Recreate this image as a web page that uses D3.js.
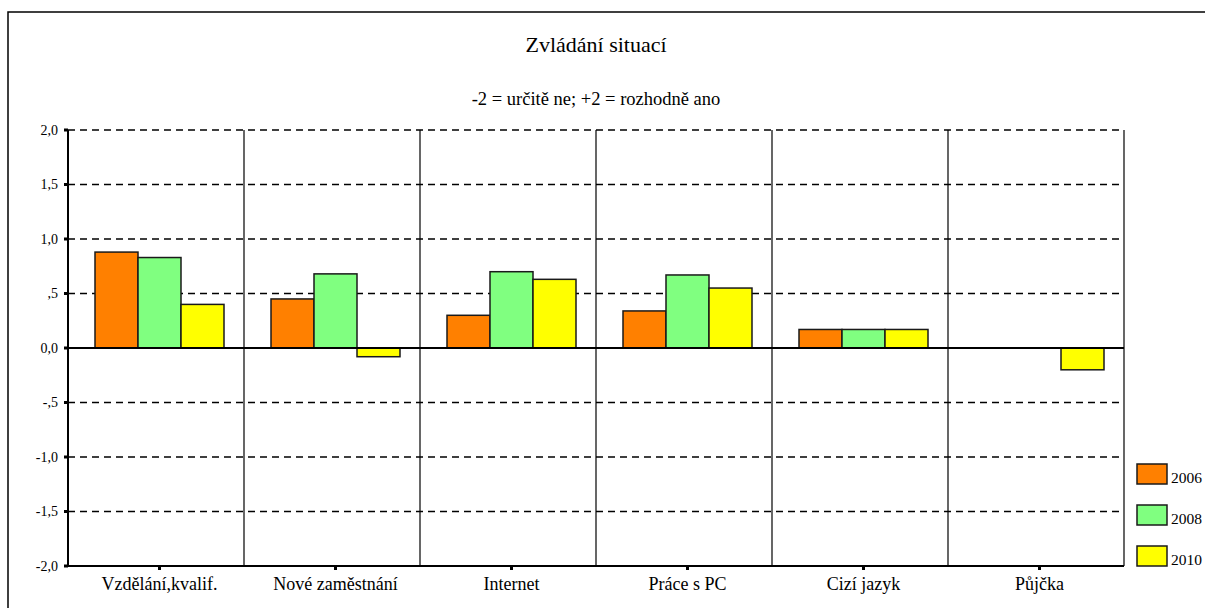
<!DOCTYPE html>
<html>
<head>
<meta charset="utf-8">
<script src="https://cdn.jsdelivr.net/npm/d3@7"></script>
<style>
  body { margin: 0; background: #fff; }
</style>
</head>
<body>
<div class="chart"></div>
<script>
var categories = ["Vzdělání,kvalif.", "Nové zaměstnání", "Internet", "Práce s PC", "Cizí jazyk", "Půjčka"];
var years = ["2006", "2008", "2010"];
var colors = ["#ff8000", "#80ff80", "#ffff00"];
var values2006 = [0.88, 0.45, 0.30, 0.34, 0.17, null];
var values2008 = [0.83, 0.68, 0.70, 0.67, 0.17, null];
var values2010 = [0.40, -0.08, 0.63, 0.55, 0.17, -0.20];
var yTicks = [2, 1.5, 1, 0.5, 0, -0.5, -1, -1.5, -2];
var yTickLabels = ["2,0", "1,5", "1,0", ",5", "0,0", "-,5", "-1,0", "-1,5", "-2,0"];

var drawChart = function(){

  var seriesValues = [values2006, values2008, values2010];
  var serif = "'Liberation Serif', 'DejaVu Serif', serif";

  var width = 1205,
      height = 608,
      plotLeft = 68, plotRight = 1124, plotTop = 130, plotBottom = 566;

  var svg = d3.select(".chart").append("svg")
      .attr("width", width)
      .attr("height", height)
      .attr("font-family", serif);

  // outer frame, runs off the page on the right and bottom
  svg.append("rect")
      .attr("x", 8).attr("y", 12)
      .attr("width", 1220).attr("height", 620)
      .style("fill", "none")
      .style("stroke", "#000")
      .style("stroke-width", 1.5);

  var x = d3.scaleBand().domain(categories).range([plotLeft, plotRight]);
  var xs = d3.scaleBand().domain(years).range([27, 156]);
  var y = d3.scaleLinear().domain([-2, 2]).range([plotBottom, plotTop]);

  // dashed grid
  svg.selectAll(".grid")
      .data(yTicks.filter(function(d){ return d !== 0 && d !== -2; }))
      .enter().append("line")
        .attr("x1", plotLeft).attr("x2", plotRight)
        .attr("y1", function(d){ return y(d); })
        .attr("y2", function(d){ return y(d); })
        .style("stroke", "#000")
        .style("stroke-width", 1.5)
        .style("stroke-dasharray", "7,5");

  // category separators
  svg.selectAll(".sep")
      .data(categories.slice(1).concat([null]))
      .enter().append("line")
        .attr("x1", function(d){ return d ? x(d) : plotRight; })
        .attr("x2", function(d){ return d ? x(d) : plotRight; })
        .attr("y1", plotTop).attr("y2", plotBottom)
        .style("stroke", "#000")
        .style("stroke-width", 1.2);

  // bars
  var bars = [];
  seriesValues.forEach(function(vals, s){
    vals.forEach(function(v, i){
      if (v !== null) bars.push({cat: categories[i], year: years[s], value: v, color: colors[s]});
    });
  });

  svg.selectAll(".bar")
      .data(bars)
      .enter().append("rect")
        .attr("x", function(d){ return x(d.cat) + xs(d.year); })
        .attr("width", xs.bandwidth())
        .attr("y", function(d){ return y(Math.max(0, d.value)); })
        .attr("height", function(d){ return Math.abs(y(d.value) - y(0)); })
        .style("fill", function(d){ return d.color; })
        .style("stroke", "#1a1a1a")
        .style("stroke-width", 1.5);

  // zero line and axes
  svg.append("line")
      .attr("x1", plotLeft).attr("x2", plotRight)
      .attr("y1", y(0)).attr("y2", y(0))
      .style("stroke", "#000").style("stroke-width", 2);
  svg.append("line")
      .attr("x1", plotLeft).attr("x2", plotLeft)
      .attr("y1", plotTop).attr("y2", plotBottom)
      .style("stroke", "#000").style("stroke-width", 2);
  svg.append("line")
      .attr("x1", plotLeft - 1).attr("x2", plotRight)
      .attr("y1", plotBottom).attr("y2", plotBottom)
      .style("stroke", "#000").style("stroke-width", 2);

  // y ticks
  svg.selectAll(".ytick")
      .data(yTicks)
      .enter().append("rect")
        .attr("x", plotLeft - 4).attr("width", 4)
        .attr("y", function(d){ return y(d) - 1.5; }).attr("height", 3)
        .style("fill", "#000");

  svg.selectAll(".ylabel")
      .data(yTicks)
      .enter().append("text")
        .attr("x", 58)
        .attr("y", function(d){ return y(d) + 4.5; })
        .attr("text-anchor", "end")
        .style("font-family", serif)
        .style("font-size", "14px")
        .text(function(d, i){ return yTickLabels[i]; });

  // x ticks and labels
  var cx = function(d){ return x(d) + x.bandwidth() / 2 + 3.5; };
  svg.selectAll(".xtick")
      .data(categories)
      .enter().append("rect")
        .attr("x", function(d){ return cx(d) - 1.5; }).attr("width", 3)
        .attr("y", plotBottom).attr("height", 4)
        .style("fill", "#000");

  svg.selectAll(".xlabel")
      .data(categories)
      .enter().append("text")
        .attr("x", cx)
        .attr("y", 590)
        .attr("text-anchor", "middle")
        .style("font-family", serif)
        .style("font-size", "18px")
        .text(function(d){ return d; });

  // titles
  svg.append("text")
      .attr("x", (plotLeft + plotRight) / 2).attr("y", 52)
      .attr("text-anchor", "middle")
      .style("font-family", serif)
      .style("font-size", "22px")
      .text("Zvládání situací");
  svg.append("text")
      .attr("x", (plotLeft + plotRight) / 2).attr("y", 105)
      .attr("text-anchor", "middle")
      .style("font-family", serif)
      .style("font-size", "18.5px")
      .text("-2 = určitě ne; +2 = rozhodně ano");

  // legend
  var legend = svg.selectAll(".legend")
      .data(years)
      .enter().append("g")
        .attr("transform", function(d, i){ return "translate(1137," + (464 + i * 41) + ")"; });
  legend.append("rect")
      .attr("width", 30).attr("height", 20)
      .style("fill", function(d, i){ return colors[i]; })
      .style("stroke", "#1a1a1a")
      .style("stroke-width", 1.5);
  legend.append("text")
      .attr("x", 34).attr("y", 19)
      .style("font-family", serif)
      .style("font-size", "15.5px")
      .text(function(d){ return d; });
};

drawChart();
</script>
</body>
</html>
